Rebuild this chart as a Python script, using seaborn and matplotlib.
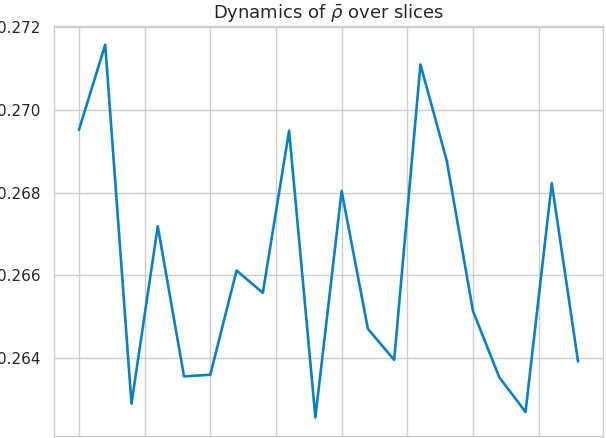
import numpy as np
import pandas as pd
import matplotlib
matplotlib.use('Agg')
import matplotlib.pyplot as plt
import seaborn as sns

sns.set_theme(style="whitegrid", context="notebook")

# mean rho per slice
slices = list(range(20))
rho_bar = [0.26952, 0.27158, 0.26290, 0.26719, 0.26356,
           0.26360, 0.26612, 0.26558, 0.26950, 0.26257,
           0.26804, 0.26471, 0.26396, 0.27110, 0.26878,
           0.26514, 0.26354, 0.26270, 0.26823, 0.26392]

df = pd.DataFrame({'slice': slices, 'rho_bar': rho_bar})

fig = plt.figure(figsize=(6.06, 4.38), dpi=100)
# axes spill over the bottom edge, like the cropped original
ax = fig.add_axes([54 / 606, (438 - 436) / 438, (603 - 54) / 606, (436 - 26) / 438])

sns.lineplot(data=df, x='slice', y='rho_bar', ax=ax, color='#0a80c4', linewidth=1.9)

ax.set_title(r'Dynamics of $\bar{\rho}$ over slices', fontsize=13, color='#262626')
ax.set_xlabel('')
ax.set_ylabel('')
ax.set_xticklabels([])
ax.tick_params(axis='y', labelsize=11)
ax.yaxis.set_major_formatter(matplotlib.ticker.FormatStrFormatter('%.3f'))
for sp in ax.spines.values():
    sp.set_linewidth(1.0)

fig.savefig('out.png', dpi=100)
